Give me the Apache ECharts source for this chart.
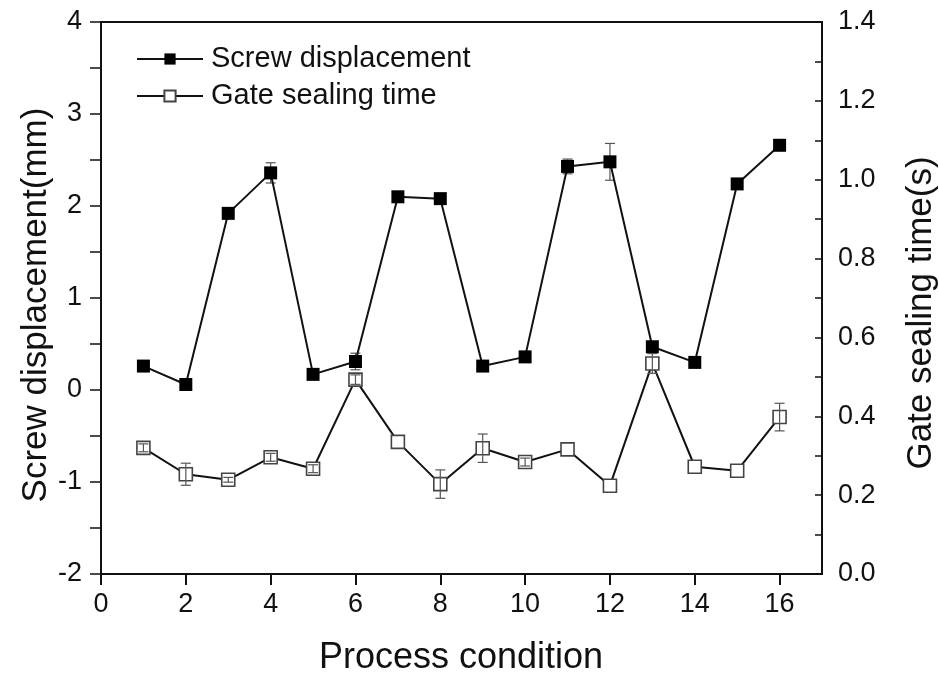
<!DOCTYPE html>
<html>
<head>
<meta charset="utf-8">
<script src="https://cdn.jsdelivr.net/npm/echarts@6/dist/echarts.min.js"></script>
<style>
html,body{margin:0;padding:0;background:#fff;}
#chart{width:939px;height:686px;}
</style>
</head>
<body>
<div id="chart"></div>
<script>
// ---- data ----
const conditions = [1,2,3,4,5,6,7,8,9,10,11,12,13,14,15,16];
const screwDisp = [0.26,0.06,1.92,2.36,0.17,0.31,2.10,2.08,0.26,0.36,2.43,2.48,0.47,0.30,2.24,2.66];
const screwErr  = [0,0,0,0.11,0,0.09,0,0,0,0,0.08,0.20,0,0,0,0];
const gateTime  = [0.320,0.253,0.239,0.296,0.267,0.493,0.335,0.228,0.319,0.284,0.316,0.224,0.534,0.272,0.262,0.398];
const gateErr   = [0.010,0.028,0.006,0.010,0.010,0.012,0,0.036,0.036,0.010,0,0,0.025,0,0,0.035];
const xTicks = [0,2,4,6,8,10,12,14,16];
const seriesNames = ['Screw displacement','Gate sealing time'];
const axisTitles = {x:'Process condition', yLeft:'Screw displacement(mm)', yRight:'Gate sealing time(s)'};

const FONT = "'Liberation Sans', Arial, Helvetica, sans-serif";

function pairs(xs, ys){ return xs.map((x,i)=>[x, ys[i]]); }
function errData(xs, ys, es){
  const out = [];
  xs.forEach((x,i)=>{ if (es[i] > 0) out.push([x, ys[i]-es[i], ys[i]+es[i]]); });
  return out;
}
function errRender(params, api){
  const x = api.value(0), lo = api.value(1), hi = api.value(2);
  const pH = api.coord([x, hi]);
  const pL = api.coord([x, lo]);
  const w = 5;
  const st = {stroke:'#555', lineWidth:1.2};
  return {type:'group', children:[
    {type:'line', shape:{x1:pH[0], y1:pH[1], x2:pL[0], y2:pL[1]}, style:st},
    {type:'line', shape:{x1:pH[0]-w, y1:pH[1], x2:pH[0]+w, y2:pH[1]}, style:st},
    {type:'line', shape:{x1:pL[0]-w, y1:pL[1], x2:pL[0]+w, y2:pL[1]}, style:st}
  ]};
}

const chart = echarts.init(document.getElementById('chart'), null, {renderer:'canvas'});
chart.setOption({
  animation:false,
  backgroundColor:'#fff',
  textStyle:{fontFamily:FONT},
  grid:{left:101, right:117, top:22, bottom:112, show:true, borderColor:'#111', borderWidth:2, backgroundColor:'transparent'},
  legend:{
    orient:'vertical', left:136, top:44, padding:0,
    itemWidth:66, itemHeight:14, itemGap:7,
    data:seriesNames,
    textStyle:{fontFamily:FONT, fontSize:29, color:'#111', lineHeight:30, padding:[0,0,0,3]}
  },
  xAxis:{
    type:'value', min:0, max:17, interval:2,
    axisLine:{show:true, onZero:false, lineStyle:{color:'#111', width:2}},
    axisTick:{show:true, inside:false, length:11, lineStyle:{color:'#111', width:2}, customValues:xTicks},
    axisLabel:{fontFamily:FONT, fontSize:27, color:'#111', margin:17, customValues:xTicks},
    splitLine:{show:false}
  },
  yAxis:[
    {
      type:'value', min:-2, max:4, interval:1, position:'left',
      axisLine:{show:true, onZero:false, lineStyle:{color:'#111', width:2}},
      axisTick:{show:true, inside:false, length:11, lineStyle:{color:'#111', width:1.5}},
      minorTick:{show:true, splitNumber:2, length:11, lineStyle:{color:'#111', width:1.5}},
      axisLabel:{fontFamily:FONT, fontSize:27, color:'#111', margin:19},
      splitLine:{show:false}
    },
    {
      type:'value', min:0, max:1.4, interval:0.2, position:'right',
      axisLine:{show:true, onZero:false, lineStyle:{color:'#111', width:2}},
      axisTick:{show:true, inside:true, length:7, lineStyle:{color:'#111', width:1.5}},
      minorTick:{show:true, splitNumber:2, length:7, lineStyle:{color:'#111', width:1.5}},
      axisLabel:{fontFamily:FONT, fontSize:27, color:'#111', margin:16, formatter:v=>v.toFixed(1)},
      splitLine:{show:false}
    }
  ],
  graphic:[
    {type:'text', x:36, y:305, rotation:Math.PI/2, style:{text:axisTitles.yLeft, font:"35px "+FONT, fill:'#111', align:'center', verticalAlign:'middle'}},
    {type:'text', x:921, y:313, rotation:Math.PI/2, style:{text:axisTitles.yRight, font:"35px "+FONT, fill:'#111', align:'center', verticalAlign:'middle'}},
    {type:'text', x:461, y:658, style:{text:axisTitles.x, font:"36px "+FONT, fill:'#111', align:'center', verticalAlign:'middle'}}
  ],
  series:[
    {
      type:'custom', name:'screwErr', yAxisIndex:0, z:1,
      renderItem:errRender, data:errData(conditions, screwDisp, screwErr), silent:true
    },
    {
      type:'line', name:seriesNames[0], yAxisIndex:0, z:2,
      data:pairs(conditions, screwDisp),
      symbol:'rect', symbolSize:13,
      itemStyle:{color:'#000', borderColor:'#000', borderWidth:0},
      lineStyle:{color:'#111', width:2}
    },
    {
      type:'line', name:seriesNames[1], yAxisIndex:1, z:3,
      data:pairs(conditions, gateTime),
      symbol:'rect', symbolSize:13,
      itemStyle:{color:'#fff', borderColor:'#444', borderWidth:1.6},
      lineStyle:{color:'#111', width:2}
    },
    {
      type:'custom', name:'gateErr', yAxisIndex:1, z:4,
      renderItem:errRender, data:errData(conditions, gateTime, gateErr), silent:true
    }
  ]
});
</script>
</body>
</html>
